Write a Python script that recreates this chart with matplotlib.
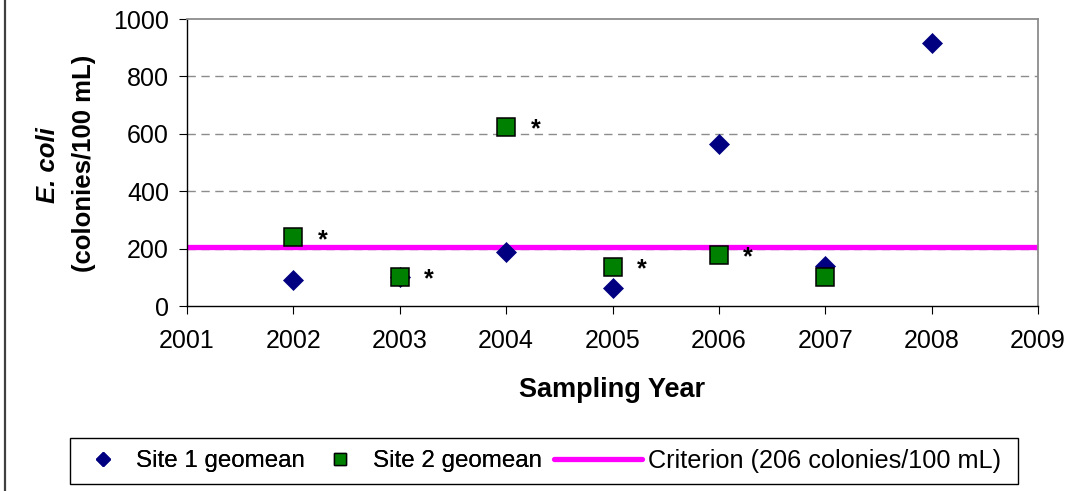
#!/usr/bin/env python3
"""
E. coli geomean by sampling year - scatter with criterion line
"""
import matplotlib
matplotlib.use('Agg')
import matplotlib.pyplot as plt
from matplotlib.lines import Line2D
from matplotlib.patches import Rectangle

plt.rcParams['font.family'] = ['Liberation Sans', 'DejaVu Sans']

# data
site1_years = [2002, 2003, 2004, 2005, 2006, 2007, 2008]
site1_geomean = [90, 100, 188, 63, 564, 138, 917]

site2_years = [2002, 2003, 2004, 2005, 2006, 2007]
site2_geomean = [240, 101, 624, 136, 178, 101]
site2_flag = [True, True, True, True, True, False]

criterion = 206
year_ticks = list(range(2001, 2010))
value_ticks = list(range(0, 1001, 200))

W, H = 1086, 491
fig = plt.figure(figsize=(W / 100, H / 100), dpi=100)
fig.patch.set_facecolor('white')

# plot area in pixels
L, R, T, B = 187, 1038, 19, 306
ax = fig.add_axes([L / W, 1 - B / H, (R - L) / W, (B - T) / H])
ax.set_xlim(2001, 2009)
ax.set_ylim(0, 1000)

# grid
for v in value_ticks[1:-1]:
    ax.axhline(v, color='#8c8c8c', lw=1, linestyle=(0, (6, 4)), zorder=0.5)

# criterion line behind the markers
ax.axhline(criterion, color='#FF00FF', lw=3.8, zorder=1, solid_capstyle='butt')

ax.plot(site1_years, site1_geomean, linestyle='none', marker='D', ms=10.6,
        color='#000080', mec='#000080', mew=0.5, zorder=3)
ax.plot(site2_years, site2_geomean, linestyle='none', marker='s', ms=12.6,
        color='#008000', mec='black', mew=1.1, zorder=4)

# asterisks next to site 2 points
for yr, val, flag in zip(site2_years, site2_geomean, site2_flag):
    if flag:
        ax.annotate('*', xy=(yr, val), xytext=(21, -7), textcoords='offset points',
                    fontsize=18, fontweight='bold', ha='center', va='baseline', zorder=5)

# spines
for s in ['left', 'bottom']:
    ax.spines[s].set_color('black')
    ax.spines[s].set_linewidth(1)
for s in ['top', 'right']:
    ax.spines[s].set_color('#8c8c8c')
    ax.spines[s].set_linewidth(1.3)

ax.set_xticks(year_ticks)
ax.set_xticklabels([str(y) for y in year_ticks])
ax.set_yticks(value_ticks)
ax.tick_params(axis='x', direction='out', length=5.5, width=0.8, pad=11, labelsize=18)
ax.tick_params(axis='y', direction='out', length=6, width=0.8, pad=7, labelsize=18)

# axis titles
fig.text(612.5 / W, 1 - 390 / H, 'Sampling Year', fontsize=19.5, fontweight='bold',
         ha='center', va='center')
fig.text(48 / W, 1 - 165 / H, 'E. coli', fontsize=18.5, fontweight='bold', style='italic',
         rotation=90, ha='center', va='center')
fig.text(84 / W, 1 - 163 / H, '(colonies/100 mL)', fontsize=18.5, fontweight='bold',
         rotation=90, ha='center', va='center')

# legend (drawn as two frameless legends inside one frame)
fsA, fsB = 17.4, 18.2
pxA = fsA * 100 / 72.0
pxB = fsB * 100 / 72.0
h1 = Line2D([], [], linestyle='none', marker='D', ms=7.1, color='#000080', mec='#000080')
h2 = Line2D([], [], linestyle='none', marker='s', ms=9.2, color='#008000', mec='black', mew=1)
h3 = Line2D([], [], color='#FF00FF', lw=3.8, solid_capstyle='round')

leg_y = 1 - 461 / H
legA = fig.legend([h1, h2], ['Site 1 geomean', 'Site 2 geomean'], ncol=2,
                  loc='center left', bbox_to_anchor=(83 / W, leg_y), frameon=False,
                  fontsize=fsA, handlelength=40 / pxA, handletextpad=13 / pxA,
                  columnspacing=15 / pxA, borderpad=0, borderaxespad=0, numpoints=1)
legB = fig.legend([h3], ['Criterion (206 colonies/100 mL)'], ncol=1,
                  loc='center left', bbox_to_anchor=(554 / W, leg_y), frameon=False,
                  fontsize=fsB, handlelength=88 / pxB, handletextpad=6 / pxB,
                  borderpad=0, borderaxespad=0)
fig.add_artist(legA)

fig.patches.append(Rectangle((70 / W, 1 - 484 / H), 948 / W, 46 / H, transform=fig.transFigure,
                             fill=False, edgecolor='black', lw=1))

# left border of the chart frame
fig.add_artist(Line2D([4.5 / W, 4.5 / W], [0, 1], transform=fig.transFigure,
                      color='#404040', lw=1.6))

fig.savefig('out.png', dpi=100, facecolor='white')
